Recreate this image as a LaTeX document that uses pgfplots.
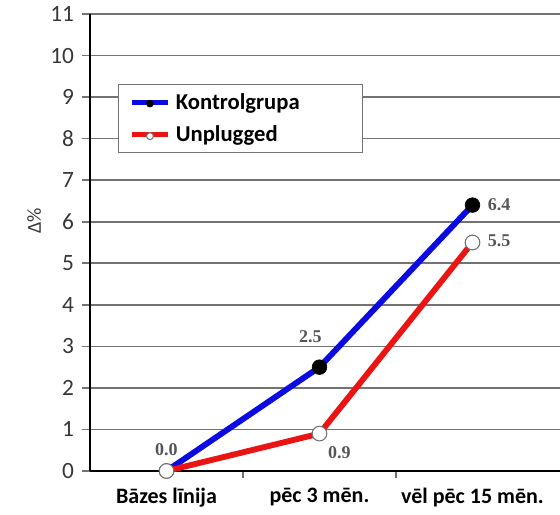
\documentclass[border=0pt]{standalone}
\usepackage{pgfplots}
\pgfplotsset{compat=1.18}
\usepackage{fontspec}
\setmainfont{Carlito}
\newfontfamily\valfont{Liberation Serif}

\definecolor{kblue}{RGB}{10,10,225}
\definecolor{ured}{RGB}{235,20,20}
\definecolor{gridgray}{RGB}{115,115,115}
\definecolor{txtgray}{RGB}{55,55,55}
\definecolor{valgray}{RGB}{85,85,85}

\begin{document}
\begin{tikzpicture}
\begin{axis}[
    width=352.5pt, height=342.75pt, scale only axis,
    xmin=-0.5, xmax=2.572, ymin=0, ymax=11,
    axis x line*=bottom, axis y line*=left,
    axis line style={black, line width=1.4pt},
    ytick={0,1,...,11},
    ymajorgrids,
    grid style={gridgray, line width=1.2pt},
    xtick={0,1,2},
    xticklabels={Bāzes līnija, pēc 3 mēn., vēl pēc 15 mēn.},
    major x tick style={draw=none},
    minor xtick={0.5,1.5},
    minor x tick style={gridgray, line width=1.2pt},
    minor tick length=5pt,
    major tick length=6pt,
    y tick style={gridgray, line width=1.2pt},
    tick align=outside,
    yticklabel style={font=\fontsize{17.5}{17.5}\selectfont, text=txtgray, xshift=-2.5pt},
    xticklabel style={font=\fontsize{16.5}{17}\selectfont\bfseries, text=black, yshift=-3pt},
    /pgf/number format/assume math mode=true,
    ylabel={Δ\%},
    ylabel style={font=\fontsize{15}{15}\selectfont, text=txtgray, at={(ticklabel cs:0.55)}, xshift=-1pt},
    legend style={at={(rel axis cs:0.06,0.847)}, anchor=north west,
        draw=gridgray, line width=0.8pt, fill=white,
        font=\fontsize{17}{17}\selectfont\bfseries,
        row sep=7pt, inner ysep=4.5pt, inner xsep=8pt,
        /tikz/every even column/.append style={text width=130pt},
        /tikz/every odd column/.append style={column sep=2pt}},
    legend cell align=left,
    legend image code/.code={
        \draw[#1, mark=none, line width=3.8pt] (0cm,0cm) -- (0.95cm,0cm);
        \draw[#1, only marks, mark size=2.6pt] plot coordinates {(0.475cm,-0.04cm)};
    },
]
\coordinate (ll) at (rel axis cs:0,0);
\coordinate (ur) at (rel axis cs:1,1);
\addplot[kblue, line width=4.4pt, mark=*, mark size=5.5pt,
    mark options={fill=black, draw=black, line width=0.5pt}]
    coordinates {(0,0.0) (1,2.5) (2,6.4)};
\addlegendentry{Kontrolgrupa}
\addplot[ured, line width=4.4pt, mark=*, mark size=5.5pt,
    mark options={fill=white, draw=gridgray, line width=0.8pt}]
    coordinates {(0,0.0) (1,0.9) (2,5.5)};
\addlegendentry{Unplugged}
\node[font=\valfont\bfseries\fontsize{13.5}{13.5}\selectfont, text=valgray] at (axis cs:0,0.52) {0.0};
\node[font=\valfont\bfseries\fontsize{13.5}{13.5}\selectfont, text=valgray] at (axis cs:0.94,3.24) {2.5};
\node[font=\valfont\bfseries\fontsize{13.5}{13.5}\selectfont, text=valgray, anchor=west] at (axis cs:2.07,6.4) {6.4};
\node[font=\valfont\bfseries\fontsize{13.5}{13.5}\selectfont, text=valgray, anchor=west] at (axis cs:2.07,5.55) {5.5};
\node[font=\valfont\bfseries\fontsize{13.5}{13.5}\selectfont, text=valgray] at (axis cs:1.13,0.45) {0.9};
\end{axis}
\path (ll) ++(-67.5pt,-32.25pt) coordinate (a);
\path (ur) ++(0pt,10.5pt) coordinate (b);
\pgfresetboundingbox
\path[use as bounding box] (a) rectangle (b);
\end{tikzpicture}
\end{document}
